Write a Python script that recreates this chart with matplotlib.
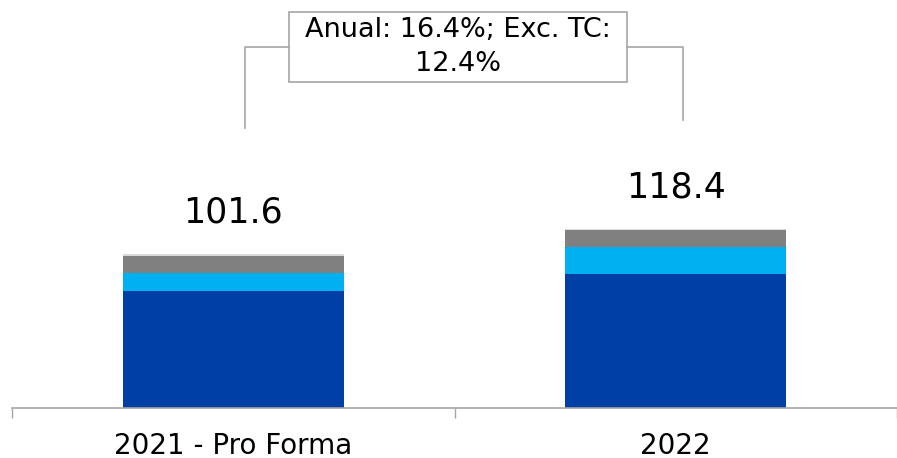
import matplotlib
matplotlib.use("Agg")
import matplotlib.pyplot as plt
import numpy as np
from matplotlib.patches import Rectangle
from matplotlib.lines import Line2D

plt.rcParams["font.family"] = ["DejaVu Sans"]

categories = ["2021 - Pro Forma", "2022"]
blue_vals = [76.9, 88.2]
cyan_vals = [12.4, 18.0]
gray_vals = [11.2, 11.4]
light_vals = [1.1, 0.8]
totals = [101.6, 118.4]
growth_text = "Anual: 16.4%; Exc. TC:\n12.4%"

W, H = 897, 458
fig = plt.figure(figsize=(W / 100, H / 100), dpi=100)
ax = fig.add_axes([12 / W, 50 / H, (W - 12) / W, 358 / H])

x = np.arange(len(categories))
w = 0.5
bottom = np.zeros(len(categories))
for vals, col in [(blue_vals, "#003FA5"), (cyan_vals, "#00B0F0"),
                  (gray_vals, "#808080"), (light_vals, "#D9D9D9")]:
    ax.bar(x, vals, w, bottom=bottom, color=col, linewidth=0)
    bottom += np.array(vals)

for xi, t in zip(x, totals):
    ax.text(xi, t + 16, f"{t:.1f}", ha="center", va="bottom", fontsize=25)

ax.set_xlim(-0.5, 1.49)
ax.set_ylim(0, 358 / 1.516)
ax.set_yticks([])
ax.set_xticks(x)
ax.set_xticklabels(categories, fontsize=20)
ax.tick_params(axis="x", which="major", length=0, pad=17)
ax.set_xticks([-0.5, 0.5, 1.5], minor=True)
ax.tick_params(axis="x", which="minor", length=7, color="#A6A6A6", width=1)
for s in ["top", "right", "left"]:
    ax.spines[s].set_visible(False)
ax.spines["bottom"].set_color("#A6A6A6")
ax.spines["bottom"].set_linewidth(1.2)


# growth bracket (figure pixel coords, y measured from top)
def fx(px):
    return px / W


def fy(py):
    return 1 - py / H


gc = "#A6A6A6"
fig.add_artist(Line2D([fx(245), fx(245), fx(289)], [fy(128), fy(47), fy(47)],
                      color=gc, lw=1.2))
fig.add_artist(Line2D([fx(627), fx(683), fx(683)], [fy(47), fy(47), fy(120)],
                      color=gc, lw=1.2))
fig.add_artist(Rectangle((fx(289), fy(82)), fx(627) - fx(289), fy(12) - fy(82),
                         transform=fig.transFigure, facecolor="white",
                         edgecolor=gc, lw=1.2))
fig.text(fx(458), fy(47), growth_text, ha="center", va="center",
         fontsize=19.5, linespacing=1.4)

fig.savefig("out.png", dpi=100)
